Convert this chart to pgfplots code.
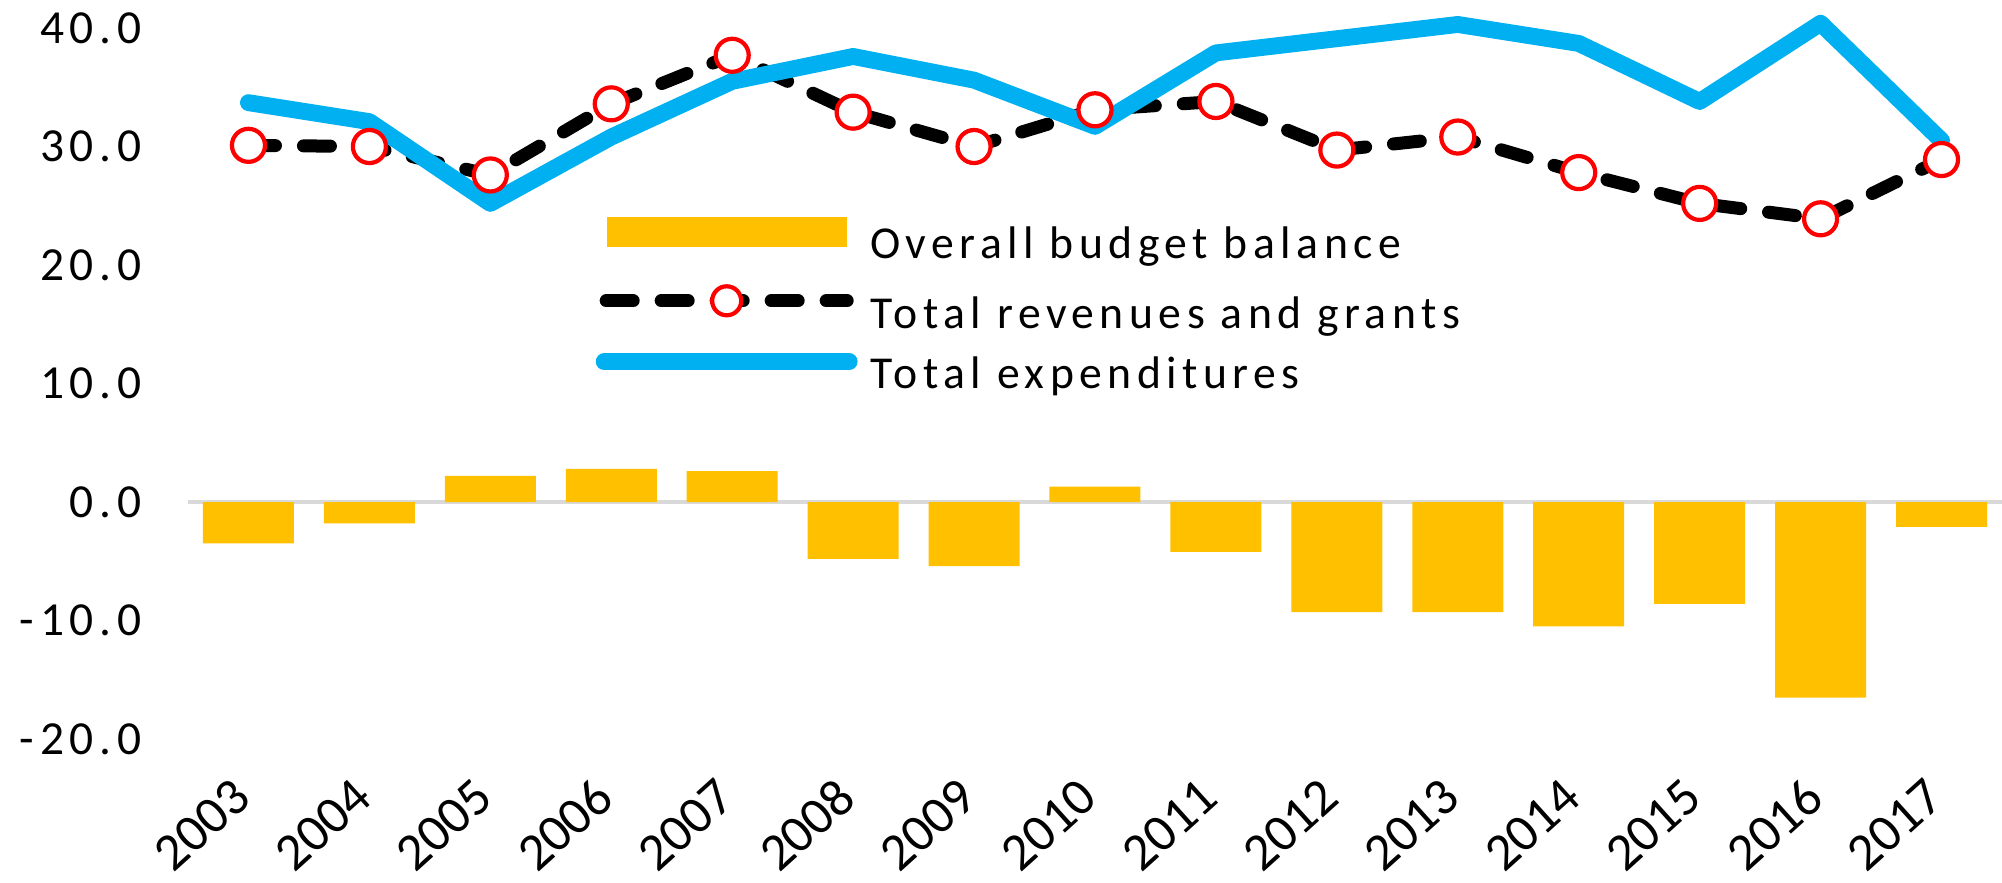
\documentclass[border=0pt]{standalone}
\usepackage{pgfplots}
\pgfplotsset{compat=1.18}
\usepackage{fontspec}
\setmainfont{Carlito}
\newfontfamily\widefont[LetterSpace=12]{Carlito}
\definecolor{barcol}{HTML}{FFC000}
\definecolor{expcol}{HTML}{00B0F0}
\definecolor{revmark}{HTML}{FF0000}
\definecolor{zerocol}{HTML}{D9D9D9}

% values by year, index 0 = 2003
\pgfplotstableread{
x bal rev exp
0  -3.5 30.1 33.7
1  -1.8 30.0 32.1
2   2.2 27.6 25.2
3   2.8 33.6 30.8
4   2.6 37.7 35.5
5  -4.8 32.9 37.6
6  -5.4 30.0 35.6
7   1.3 33.1 31.7
8  -4.2 33.8 37.9
9  -9.3 29.7 39.1
10 -9.3 30.8 40.3
11 -10.5 27.8 38.7
12 -8.6 25.2 33.8
13 -16.5 23.9 40.4
14 -2.1 28.9 30.5
}\budget

\begin{document}
\begin{tikzpicture}
\begin{axis}[
  scale only axis,
  width=181.4mm, height=75.84mm,
  xmin=-0.5, xmax=14.5, ymin=-22, ymax=42,
  clip=false,
  axis line style={draw=none},
  major tick length=0pt,
  xtick={0,...,14},
  xticklabels={2003,2004,2005,2006,2007,2008,2009,2010,2011,2012,2013,2014,2015,2016,2017},
  ytick={-20,-10,0,10,20,30,40},
  yticklabels={-20.0,-10.0,0.0,10.0,20.0,30.0,40.0},
  yticklabel style={font=\widefont\fontsize{13.5}{16}\selectfont, anchor=east, inner sep=0pt, xshift=-4.6mm},
  xticklabel style={font=\fontsize{15}{18}\selectfont, inner sep=0pt, xshift=-0.6mm, yshift=-2.6mm, rotate=42, anchor=east},
  extra y ticks={0}, extra y tick labels={},
  extra y tick style={grid=major, major grid style={zerocol, line width=1.4pt}},
  legend style={at={(axis description cs:0.2244,0.7209)}, anchor=north west,
    draw=none, fill=none, inner sep=0pt, row sep=2.0mm,
    font=\widefont\fontsize{13}{15.6}\selectfont,
    nodes={inner sep=0pt}},
  legend cell align=left,
]
\addplot[ybar, bar width=9.1mm, fill=barcol, draw=none,
  legend image code/.code={\fill[barcol] (0.7mm,-0.1mm) rectangle (24.7mm,2.9mm);
    \path (26.2mm,1.4mm);}]
  table[x=x, y=bal] {\budget};
\addlegendentry{Overall budget balance}
\addplot[black, line width=3.7pt, line cap=round, dash pattern=on 2.7mm off 2.8mm,
  mark=*, mark size=4.7pt, mark options={solid, draw=revmark, fill=white, line width=1.2pt},
  legend image code/.code={
    \draw[black, line width=3.7pt, line cap=round, dash pattern=on 2.7mm off 2.8mm] (0.65mm,1.4mm) -- (24.75mm,1.4mm);
    \draw[solid, revmark, fill=white, line width=1.2pt] (12.7mm,1.4mm) circle (1.45mm);
    \path (26.2mm,1.4mm);}]
  table[x=x, y=rev] {\budget};
\addlegendentry{Total revenues and grants}
\addplot[expcol, line width=4.8pt, line cap=round, line join=round,
  legend image code/.code={\draw[expcol, line width=4.8pt, line cap=round] (0.45mm,1.4mm) -- (24.95mm,1.4mm);
    \path (26.2mm,1.4mm);}]
  table[x=x, y=exp] {\budget};
\addlegendentry{Total expenditures}
\end{axis}
\pgfresetboundingbox
\path (-18.8mm,-11.93mm) rectangle (181.4mm,76.27mm);
\end{tikzpicture}
\end{document}
